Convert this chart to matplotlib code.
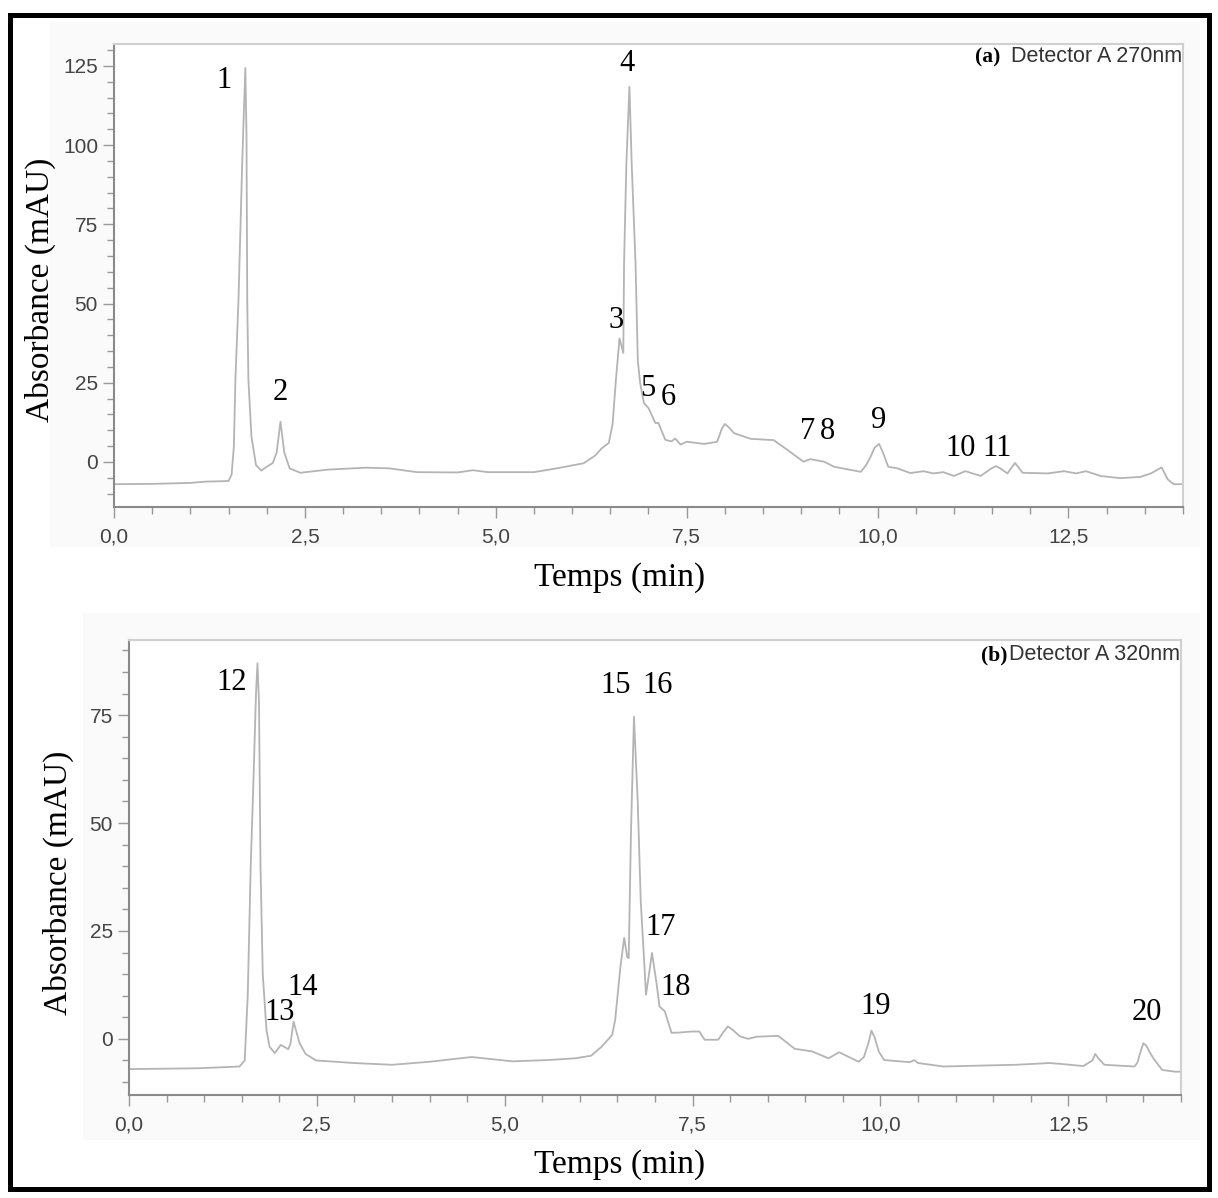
import numpy as np
import matplotlib.pyplot as plt
from matplotlib.ticker import MultipleLocator, FuncFormatter
from matplotlib.patches import Rectangle

# Chromatogramme (a) - Detector A 270nm : temps (min), absorbance (mAU)
t_a = [0.0, 0.5, 1.0, 1.2, 1.5, 1.54, 1.57, 1.59, 1.63, 1.68, 1.72, 1.735, 1.745, 1.76,
       1.8, 1.86, 1.93, 2.0, 2.08, 2.13, 2.18, 2.23, 2.3, 2.44, 2.8, 3.3, 3.6, 3.97, 4.5,
       4.7, 4.9, 5.5, 5.8, 6.15, 6.3, 6.39, 6.48, 6.53, 6.57, 6.62, 6.67, 6.68, 6.71, 6.75,
       6.78, 6.83, 6.86, 6.89, 6.94, 7.0, 7.09, 7.13, 7.22, 7.3, 7.35, 7.42, 7.5, 7.73,
       7.9, 7.96, 8.0, 8.05, 8.12, 8.34, 8.64, 8.82, 9.03, 9.12, 9.3, 9.43, 9.78, 9.85,
       9.91, 9.96, 10.02, 10.07, 10.14, 10.26, 10.43, 10.6, 10.73, 10.86, 11.0, 11.15,
       11.35, 11.48, 11.55, 11.62, 11.7, 11.8, 11.9, 12.23, 12.44, 12.6, 12.73, 12.92,
       13.18, 13.44, 13.58, 13.72, 13.8, 13.88, 14.0]
abs_a = [-7.0, -6.9, -6.6, -6.2, -6.0, -4.0, 5.0, 26.0, 51.0, 95.0, 124.3, 104.0, 51.0, 26.0,
         8.0, -1.0, -2.7, -1.5, -0.3, 3.0, 12.7, 3.0, -2.0, -3.4, -2.4, -1.8, -2.0, -3.2, -3.3,
         -2.6, -3.2, -3.2, -2.0, -0.4, 2.0, 4.4, 6.0, 12.0, 25.0, 39.0, 34.4, 62.8, 94.0, 118.4,
         94.0, 62.8, 32.0, 25.0, 18.6, 17.0, 12.3, 12.3, 7.0, 6.5, 7.4, 5.5, 6.4, 5.7,
         6.4, 10.5, 12.0, 11.0, 9.1, 7.3, 6.9, 3.8, 0.1, 0.9, 0.1, -1.5, -3.1, -1.0,
         1.7, 4.5, 5.7, 3.0, -1.5, -2.0, -3.5, -2.9, -3.6, -3.2, -4.4, -2.9,
         -4.4, -2.2, -1.3, -2.2, -3.6, -0.3, -3.4, -3.6, -2.9, -3.6, -2.9, -4.4,
         -5.1, -4.7, -3.6, -1.7, -5.5, -7.0, -7.0]

# Chromatogramme (b) - Detector A 320nm
t_b = [0.0, 0.5, 0.94, 1.2, 1.47, 1.54, 1.58, 1.62, 1.66, 1.69, 1.71, 1.73, 1.75, 1.78,
       1.83, 1.87, 1.94, 2.02, 2.12, 2.15, 2.19, 2.27, 2.35, 2.49, 3.0, 3.5, 4.0, 4.56,
       5.1, 5.58, 5.94, 6.15, 6.29, 6.43, 6.47, 6.54, 6.59, 6.63, 6.65, 6.68, 6.72, 6.77,
       6.81, 6.86, 6.88, 6.92, 6.96, 7.02, 7.06, 7.13, 7.22, 7.35, 7.48, 7.59, 7.66, 7.84,
       7.92, 7.97, 8.04, 8.13, 8.24, 8.35, 8.64, 8.86, 9.09, 9.31, 9.45, 9.71, 9.78, 9.84,
       9.88, 9.92, 9.98, 10.05, 10.39, 10.45, 10.5, 10.84, 11.3, 11.8, 12.25, 12.4, 12.7,
       12.82, 12.86, 12.9, 12.98, 13.38, 13.42, 13.47, 13.5, 13.54, 13.58, 13.64, 13.75,
       13.92, 14.0]
abs_b = [-7.0, -6.9, -6.8, -6.6, -6.4, -5.0, 10.0, 40.0, 62.0, 80.0, 87.0, 78.0, 40.0, 15.0,
         2.0, -1.8, -3.3, -1.4, -2.4, -1.0, 4.0, -1.0, -3.5, -5.0, -5.6, -6.0, -5.3, -4.2,
         -5.2, -4.9, -4.5, -3.9, -1.8, 0.9, 4.4, 16.7, 23.4, 19.0, 18.7, 47.7, 74.6, 55.0,
         32.0, 16.7, 10.2, 15.0, 19.9, 12.9, 7.5, 6.4, 1.4, 1.5, 1.7, 1.7, -0.2, -0.2,
         1.8, 2.9, 2.0, 0.6, 0.0, 0.5, 0.7, -2.3, -2.9, -4.5, -3.1, -5.3, -4.2, -1.0,
         1.9, 0.5, -3.0, -4.9, -5.4, -4.9, -5.6, -6.4, -6.2, -6.0, -5.6, -5.8, -6.3,
         -5.0, -3.5, -4.5, -6.0, -6.4, -5.5, -2.5, -1.0, -1.6, -3.0, -4.7, -7.2,
         -7.6, -7.6]

# Numeros des pics (texte, temps, absorbance)
pics_a = [("1", 1.44, 120.5), ("2", 2.18, 21.8), ("3", 6.57, 44.8), ("4", 6.72, 125.9),
          ("5", 6.99, 23.3), ("6", 7.26, 20.5), ("7", 9.08, 9.5), ("8", 9.34, 9.5),
          ("9", 10.01, 13.2), ("10", 11.09, 4.4), ("11", 11.57, 4.4)]
pics_b = [("12", 1.37, 82.6), ("13", 2.0, 6.0), ("14", 2.31, 12.0), ("15", 6.47, 81.9),
          ("16", 7.03, 81.9), ("17", 7.07, 25.9), ("18", 7.27, 12.0), ("19", 9.93, 7.4),
          ("20", 13.55, 6.0)]

W, H = 1218, 1198
serif = 'Liberation Serif'
sans = 'Liberation Sans'

def px(x, y):
    return x / W, 1 - y / H

def virgule(v, pos):
    return f"{v:.1f}".replace(".", ",")

fig = plt.figure(figsize=(W / 100, H / 100), dpi=100)
fig.patch.set_facecolor('white')

# fond gris tres clair des captures d'ecran
for (x0, y0, x1, y1) in [(50, 22, 1200, 547), (83, 613, 1200, 1140)]:
    fig.patches.append(Rectangle(px(x0, y1), (x1 - x0) / W, (y1 - y0) / H,
                                 transform=fig.transFigure, facecolor='#fafafa',
                                 edgecolor='none', zorder=-5))

def panneau(rect, t, a, ylim, yticks, pics, titre_lettre, titre, titre_xy, lettre_x):
    l, b = px(rect[0], rect[3])
    w = (rect[2] - rect[0]) / W
    h = (rect[3] - rect[1]) / H
    ax = fig.add_axes([l, b, w, h])
    ax.set_facecolor('white')
    ax.plot(t, a, color='#b4b4b4', lw=1.3)
    ax.set_xlim(0, 14)
    ax.set_ylim(*ylim)
    ax.xaxis.set_major_locator(MultipleLocator(2.5))
    ax.xaxis.set_minor_locator(MultipleLocator(0.5))
    ax.set_yticks(yticks)
    ax.yaxis.set_minor_locator(MultipleLocator(5))
    ax.xaxis.set_major_formatter(FuncFormatter(virgule))
    ax.tick_params(which='major', length=8, width=1, color='#999999', labelsize=15,
                   labelcolor='#444444')
    ax.tick_params(which='minor', length=5, width=1, color='#999999')
    ax.tick_params(axis='x', pad=7)
    for lab in ax.get_xticklabels() + ax.get_yticklabels():
        lab.set_fontfamily(sans)
    for s in ['left', 'bottom']:
        ax.spines[s].set_color('#8a8a8a')
        ax.spines[s].set_linewidth(1.5)
    for s in ['top', 'right']:
        ax.spines[s].set_color('#d0d0d0')
        ax.spines[s].set_linewidth(1.5)
    for txt, x, y in pics:
        ax.text(x, y, txt, ha='center', va='center', fontsize=22, family=serif)
    fig.text(*px(*titre_xy), titre, ha='right', va='center', fontsize=15.5,
             family=sans, color='#333333')
    fig.text(*px(lettre_x, titre_xy[1]), titre_lettre, ha='right', va='center',
             fontsize=15.5, family=serif, fontweight='bold')
    return ax

panneau((114, 44, 1183, 507), t_a, abs_a, (-14.2, 131.9), [0, 25, 50, 75, 100, 125],
        pics_a, "(a)", "Detector A 270nm", (1182, 57), 1000)
panneau((129, 640, 1181, 1095), t_b, abs_b, (-13, 92.4), [0, 25, 50, 75],
        pics_b, "(b)", "Detector A 320nm", (1180, 655), 1008)

# titres des axes
fig.text(*px(40, 290), "Absorbance (mAU)", rotation=90, ha='center', va='center',
         fontsize=24, family=serif)
fig.text(*px(58, 883), "Absorbance (mAU)", rotation=90, ha='center', va='center',
         fontsize=24, family=serif)
fig.text(*px(620, 578), "Temps (min)", ha='center', va='center', fontsize=24, family=serif)
fig.text(*px(620, 1165), "Temps (min)", ha='center', va='center', fontsize=24, family=serif)

# cadre noir epais autour de la figure
fig.patches.append(Rectangle(px(9.5, 1189), (1209 - 9.5) / W, (1189 - 14.5) / H,
                             transform=fig.transFigure, fill=False, edgecolor='black',
                             lw=3.6, zorder=10))

fig.savefig('out.png', dpi=100)
